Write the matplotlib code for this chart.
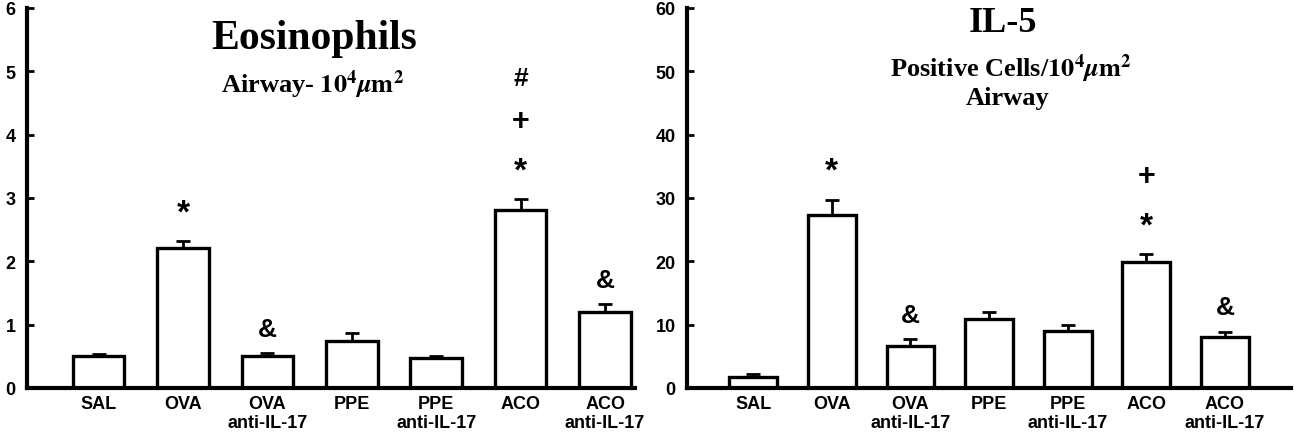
import matplotlib
matplotlib.use("Agg")
import matplotlib.pyplot as plt
import numpy as np

plt.rcParams["mathtext.fontset"] = "stix"

groups = ["SAL", "OVA", "OVA\nanti-IL-17", "PPE", "PPE\nanti-IL-17", "ACO", "ACO\nanti-IL-17"]

eos_mean = [0.50, 2.21, 0.51, 0.74, 0.47, 2.81, 1.20]
eos_err = [0.04, 0.11, 0.04, 0.13, 0.03, 0.17, 0.12]
eos_marks = ["", "*", "&", "", "", "*+#", "&"]

il5_mean = [1.8, 27.3, 6.7, 10.9, 9.0, 19.9, 8.0]
il5_err = [0.4, 2.4, 1.0, 1.1, 0.9, 1.2, 0.9]
il5_marks = ["", "*", "&", "", "", "*+", "&"]

fig = plt.figure(figsize=(12.99, 4.39), dpi=100)
sans = ["Liberation Sans", "DejaVu Sans"]
serif = ["Liberation Serif", "DejaVu Serif"]

sym_size = {"*": 24, "+": 22, "#": 19, "&": 19}
sym_off = {"*": 20.5, "+": 56.5, "#": 87, "&": 17.5}


def panel(rect, means, errs, marks, ymax, ystep, xlim):
    ax = fig.add_axes(rect)
    x = np.arange(len(means))
    ax.bar(x, means, width=0.61, color="white", edgecolor="black", linewidth=2.4, zorder=2)
    ax.errorbar(x, means, yerr=[np.zeros(len(errs)), errs], fmt="none", ecolor="black",
                elinewidth=2, capsize=5, capthick=2, zorder=1)
    ax.set_xlim(*xlim)
    ax.set_ylim(0, ymax)
    ax.set_yticks(np.arange(0, ymax + ystep / 2, ystep))
    ax.set_xticks(x)
    ax.set_xticklabels(groups, fontfamily=sans, fontweight="bold", fontsize=13, linespacing=1.15)
    for lab in ax.get_yticklabels():
        lab.set_fontfamily(sans)
        lab.set_fontweight("bold")
        lab.set_fontsize(13)
    ax.tick_params(axis="x", length=0, pad=5)
    ax.tick_params(axis="y", length=5, width=2, direction="in", pad=8)
    for s in ["top", "right"]:
        ax.spines[s].set_visible(False)
    for s in ["left", "bottom"]:
        ax.spines[s].set_linewidth(3)
    for i, m in enumerate(marks):
        if not m:
            continue
        top = means[i] + errs[i]
        for s in m:
            ax.annotate(s, xy=(i, top), xytext=(0, sym_off[s]),
                        textcoords="offset points", ha="center", va="center",
                        fontsize=sym_size[s], fontweight="bold", fontfamily=sans)
    return ax


ax1 = panel([0.0206, 0.1139, 0.4683, 0.8656], eos_mean, eos_err, eos_marks, 6, 1, (-0.85, 6.355))
ax1.text(0.472, 0.894, "Eosinophils", transform=ax1.transAxes, ha="center", va="baseline",
         fontsize=30, fontweight="bold", fontfamily=serif)
ax1.text(0.47, 0.778, r"Airway- $\mathbf{10^4}\mathbfit{\mu}\mathbf{m^2}$", transform=ax1.transAxes,
         ha="center", va="baseline", fontsize=19, fontweight="bold", fontfamily=serif)

ax2 = panel([0.5286, 0.1139, 0.465, 0.8656], il5_mean, il5_err, il5_marks, 60, 10, (-0.847, 6.836))
ax2.text(0.524, 0.9387, "IL-5", transform=ax2.transAxes, ha="center", va="baseline",
         fontsize=26, fontweight="bold", fontfamily=serif)
ax2.text(0.537, 0.822, r"Positive Cells/$\mathbf{10^4}\mathbfit{\mu}\mathbf{m^2}$", transform=ax2.transAxes,
         ha="center", va="baseline", fontsize=19, fontweight="bold", fontfamily=serif)
ax2.text(0.531, 0.747, "Airway", transform=ax2.transAxes,
         ha="center", va="baseline", fontsize=19, fontweight="bold", fontfamily=serif)

fig.savefig("out.png", dpi=100)
